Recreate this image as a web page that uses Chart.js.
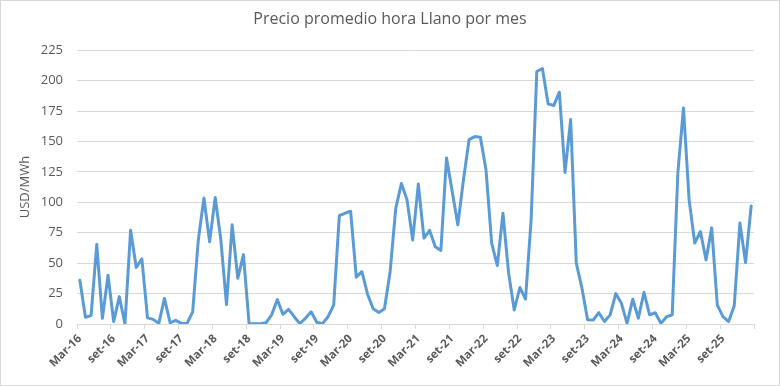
<!DOCTYPE html>
<html>
<head>
<meta charset="utf-8">
<script src="https://cdn.jsdelivr.net/npm/chart.js@4.4.1/dist/chart.umd.min.js"></script>
<style>
  body { margin: 0; background: #fff; }
  canvas { display: block; }
</style>
</head>
<body>
<canvas id="grafica" width="780" height="386"></canvas>
<script>
// datos (USD/MWh, mar-2016 a feb-2026)
const meses = ['ene','feb','Mar','abr','may','jun','jul','ago','set','oct','nov','dic'];
const anioInicio = 2016;
const mesInicio = 2; // marzo
const totalMeses = 120;

const precios = [
  36, 5.5, 7, 65.5, 4.7, 40, 2, 22.5, 0, 77, 46.5, 53.5,
  5, 3.8, 0.5, 21, 1, 3, 0.5, 0.5, 10, 69, 103.5, 67.5,
  104, 69, 16, 81.5, 37.5, 57, 0.3, 0.3, 0.3, 1, 7.5, 20,
  8, 12, 6, 0.3, 4.7, 10, 1.5, 0.3, 6, 15.5, 89, 91,
  92.7, 38.5, 43, 24.5, 12.5, 9.5, 12.5, 43, 95, 115.5, 102, 69,
  115, 70.5, 77, 63.5, 60.5, 136.5, 109, 81.5, 118.5, 151.5, 154, 153.5,
  126.5, 66.5, 48, 91, 42, 11.5, 30, 20.5, 86, 207.5, 210, 181,
  179.5, 190.5, 124.5, 168, 50, 29.5, 3.5, 3.3, 9.3, 2, 7.5, 25,
  17, 0.5, 20.3, 4.7, 26, 7.5, 9.3, 0.5, 6, 7.5, 124, 177.5,
  102, 66.5, 76, 52.7, 79, 15.5, 6, 2, 15, 83, 50.5, 97
];

const ticksY = [0, 25, 50, 75, 100, 125, 150, 175, 200, 225];

const etiquetas = [];
for (var i = 0; i < totalMeses; i++) {
  var m = (mesInicio + i) % 12;
  var a = anioInicio + Math.floor((mesInicio + i) / 12);
  etiquetas.push(meses[m] + '-' + String(a).slice(2));
}

const gris = '#d9d9d9';
const texto = '#595959';

// marco gris del area del grafico
const marco = {
  id: 'marco',
  afterDraw(chart) {
    const c = chart.ctx;
    c.save();
    c.strokeStyle = gris;
    c.lineWidth = 1;
    c.strokeRect(0.5, 0.5, chart.width - 1, chart.height - 1);
    c.restore();
  }
};

Chart.defaults.font.family = "'Open Sans', sans-serif";
Chart.defaults.color = texto;

new Chart(document.getElementById('grafica'), {
  type: 'line',
  data: {
    labels: etiquetas,
    datasets: [{
      label: 'Precio',
      data: precios,
      borderColor: '#5b9bd5',
      borderWidth: 3,
      borderJoinStyle: 'round',
      borderCapStyle: 'round',
      pointRadius: 0,
      tension: 0,
      fill: false
    }]
  },
  options: {
    responsive: false,
    animation: false,
    devicePixelRatio: 1,
    layout: { padding: 0 },
    plugins: {
      legend: { display: false },
      tooltip: { enabled: false },
      title: {
        display: true,
        text: 'Precio promedio hora Llano por mes',
        color: texto,
        font: { size: 16, weight: 'normal' },
        padding: { top: 10, bottom: 21 }
      }
    },
    scales: {
      x: {
        offset: true,
        afterFit: function (s) { s.height = 62; },
        border: { display: true, color: gris },
        grid: {
          offset: true,
          drawOnChartArea: false,
          drawTicks: true,
          tickLength: 5,
          color: function (ctx) {
            if (ctx.type !== 'tick') return gris;
            return ctx.index % 6 === 0 ? gris : 'rgba(0,0,0,0)';
          }
        },
        ticks: {
          autoSkip: false,
          minRotation: 45,
          maxRotation: 45,
          padding: 3,
          color: texto,
          font: { size: 11.5, weight: 'bold' },
          callback: function (v, idx) {
            return idx % 6 === 0 ? etiquetas[idx] : '';
          }
        }
      },
      y: {
        min: 0,
        max: 225,
        afterFit: function (s) { s.width = 77; },
        afterBuildTicks: function (s) {
          s.ticks = ticksY.map(v => ({ value: v }));
        },
        border: { display: false },
        grid: { color: gris, drawTicks: false },
        ticks: { padding: 14, color: texto, font: { size: 13 } },
        title: {
          display: true,
          text: 'USD/MWh',
          color: texto,
          font: { size: 13 },
          padding: { top: 17, bottom: 0 }
        }
      },
      // eje vacio a la derecha, solo para dejar el margen
      margen: {
        type: 'linear',
        position: 'right',
        afterFit: function (s) { s.width = 26; },
        border: { display: false },
        grid: { display: false },
        ticks: { display: false }
      }
    }
  },
  plugins: [marco]
});
</script>
</body>
</html>
